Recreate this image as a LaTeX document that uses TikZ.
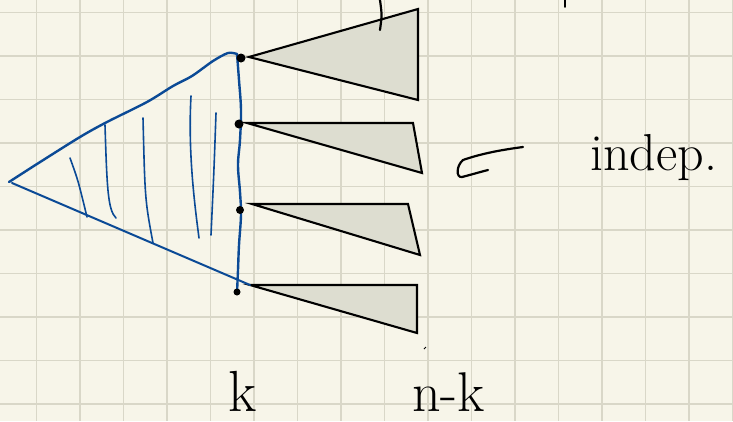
\documentclass[tikz,border=0pt]{standalone}
\usepackage{fontspec}
\definecolor{paper}{HTML}{F7F5E9}
\definecolor{gridc}{HTML}{D9D7C8}
\definecolor{ink}{HTML}{0B4A96}
\definecolor{shade}{HTML}{DDDDD0}
\tikzset{
  bluepen/.style={draw=ink, line width=2.4pt, line cap=round, line join=round},
  hatchpen/.style={draw=ink, line width=1.6pt, line cap=round},
  blackpen/.style={draw=black, line width=2.2pt, line cap=round, line join=round},
  tri/.style={draw=black, fill=shade, line width=2.1pt, line join=miter},
  dot/.style={circle, fill=black, inner sep=0pt, minimum size=9pt},
  hand/.style={inner sep=0pt, anchor=base west, text=black}
}
\begin{document}
\begin{tikzpicture}[x=1pt, y=-1pt]
\useasboundingbox (0,0) rectangle (733,421);
\clip (0,0) rectangle (733,421);
\fill[paper] (0,0) rectangle (733,421);
% grid
\foreach \k in {0,...,16} {
  \draw[gridc, line width=1.5pt] ({36.7+43.5*\k},0) -- ({36.7+43.5*\k},421);
}
\foreach \k in {0,...,9} {
  \draw[gridc, line width=1.5pt] (0,{12.7+43.5*\k}) -- (733,{12.7+43.5*\k});
}
% triangles
\draw[tri] (249,57) -- (418,9) -- (418,100) -- cycle;
\draw[tri] (247,123) -- (413,123) -- (422,173) -- cycle;
\draw[tri] (252,204) -- (408,204) -- (420,255) -- cycle;
\draw[tri] (250,285) -- (417,285) -- (417,333) -- cycle;
% blue cone
\coordinate (apex) at (9,182);
\coordinate (top) at (237,54);
\coordinate (bot) at (250,285);
\draw[bluepen] plot[smooth, tension=0.5] coordinates {(9,182) (37,164) (80,137) (107,122) (147,102) (173,86) (192,76) (213,61) (228,53) (237,54)};
\draw[bluepen, line width=2pt] (12,183) -- (bot);
\draw[bluepen] plot[smooth, tension=0.6] coordinates {(237,54) (239,80) (241,110) (240,140) (238,165) (240,192) (241,215) (239,245) (238,270) (237,293)};
% hatching
\draw[hatchpen] (70,158) .. controls (78,180) .. (87,217);
\draw[hatchpen] (105,125) .. controls (107,190) and (108,210) .. (116,218);
\draw[hatchpen] (143,118) .. controls (145,200) .. (153,243);
\draw[hatchpen] (191,96) .. controls (188,150) and (194,200) .. (199,238);
\draw[hatchpen] (216,113) .. controls (214,170) .. (211,235);
% dots
\node[dot] (d1) at (241,58) {};
\node[dot] (d2) at (239,124) {};
\node[dot, minimum size=8pt] (d3) at (240,210) {};
\node[dot, minimum size=7pt] (d4) at (237,292) {};
% top ticks
\draw[blackpen] (380,0) .. controls (382,15) .. (380,30);
\draw[blackpen, line width=1.6pt] (565,0) -- (565,7);
\draw[black, line width=0.8pt] (424,349) -- (426,347);
% hand arrow
\draw[blackpen] (523,147) .. controls (500,150) and (480,154) .. (463,160)
  .. controls (456,166) and (456,178) .. (462,177) .. controls (470,175) and (480,172) .. (488,170);
% texts
\node[hand, font=\fontsize{52}{52}\selectfont] (indep) at (590,170) {indep.};
\node[hand, font=\fontsize{58}{58}\selectfont] (k) at (228,411) {k};
\node[hand, font=\fontsize{56}{56}\selectfont] (nk) at (412,411) {n-k};
\end{tikzpicture}
\end{document}
